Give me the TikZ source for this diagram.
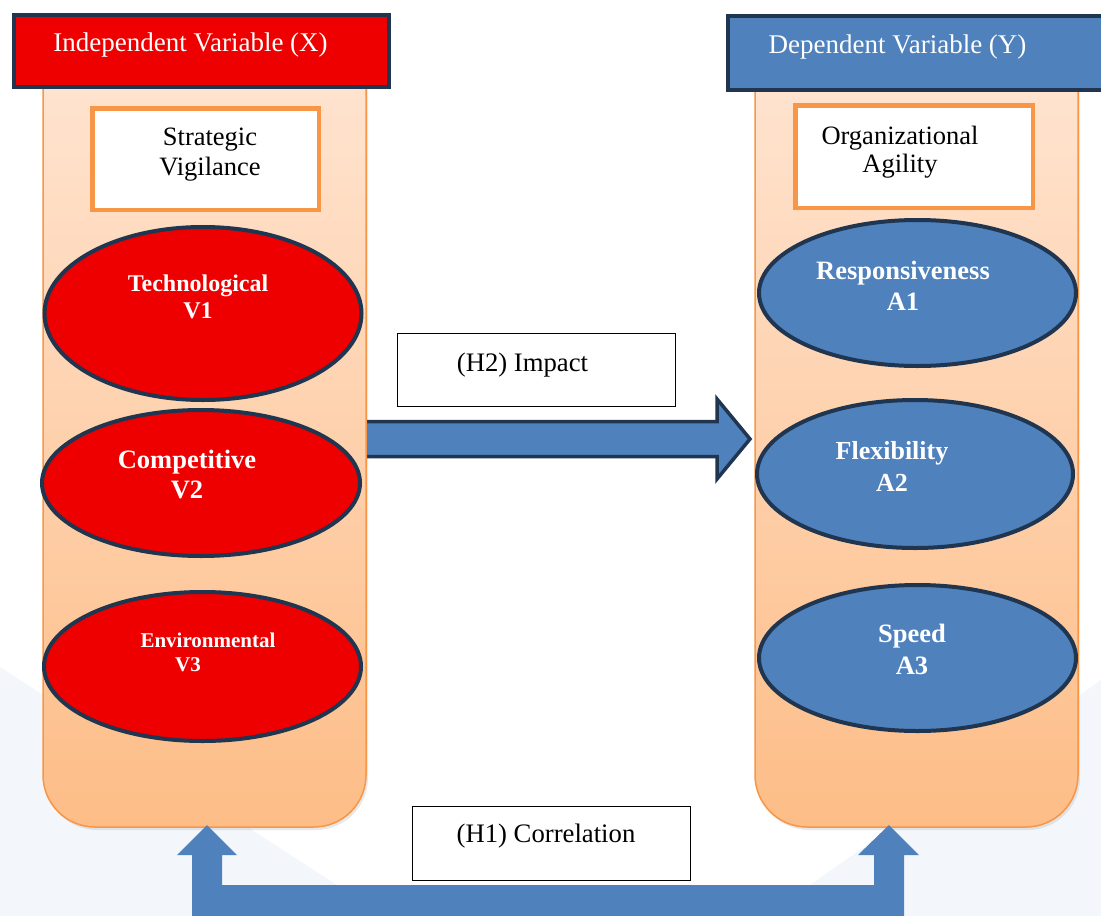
\documentclass[tikz,border=0pt]{standalone}
\usepackage{fontspec}
\setmainfont{Liberation Serif}
\usetikzlibrary{shapes.geometric,calc,shadows}
\definecolor{navy}{HTML}{1F3550}
\definecolor{vred}{HTML}{EE0000}
\definecolor{vblue}{HTML}{4F81BD}
\definecolor{orng}{HTML}{F79646}
\definecolor{peachtop}{HTML}{FFE6D4}
\definecolor{peachbot}{HTML}{FDBD87}
\definecolor{bgblue}{HTML}{F3F7FC}
\begin{document}
\begin{tikzpicture}[x=1pt,y=-1pt,
  header/.style={rectangle,draw=navy,line width=4pt,inner sep=0pt},
  hdtext/.style={text=white,font=\fontsize{27}{32}\selectfont,inner sep=0pt},
  conbox/.style={rectangle,draw=orng,line width=4.5pt,fill=white,inner sep=0pt},
  context/.style={align=center,inner sep=0pt},
  oval/.style={ellipse,draw=navy,line width=4pt,inner sep=0pt},
  ovtext/.style={text=white,align=center,inner sep=0pt},
  hypbox/.style={rectangle,draw=black,line width=1.2pt,fill=white,inner sep=0pt},
  hyptext/.style={font=\fontsize{26.7}{30}\selectfont,inner sep=0pt},
  column/.style={rectangle,draw=orng,line width=1.5pt,top color=peachtop,bottom color=peachbot,
    rounded corners=52pt,inner sep=0pt,minimum width=323pt,minimum height=797pt,
    drop shadow={opacity=0.18,shadow xshift=2pt,shadow yshift=-3pt}},
  blockarrow/.style={fill=vblue,draw=navy,line width=3.5pt,line join=miter},
  corrarrow/.style={fill=vblue},
]
\useasboundingbox (0,0) rectangle (1101,916);
\clip (0,0) rectangle (1101,916);
\fill[white] (0,0) rectangle (1101,916);
% faint background shapes
\fill[bgblue] (0,667) -- (385,916) -- (0,916) -- cycle;
\fill[bgblue] (1101,680) -- (766,916) -- (1101,916) -- cycle;

% H2 impact arrow (under the columns)
\coordinate (h2a) at (340,439);
\coordinate (h2b) at (750,439);
\draw[blockarrow] ($(h2a)+(0,-17.5)$) -- ($(h2b)+(-33,-17.5)$) -- ($(h2b)+(-33,-40)$)
  -- (h2b) -- ($(h2b)+(-33,40)$) -- ($(h2b)+(-33,17.5)$) -- ($(h2a)+(0,17.5)$) -- cycle;

% columns
\node[column] (colL) at (204.5,428.5) {};
\node[column] (colR) at (916.5,428.5) {};

% headers
\node[header,fill=vred,minimum width=375pt,minimum height=72pt] (hdL) at (201.5,51) {};
\node[hdtext] at (190.5,45.5) {Independent Variable (X)};
\node[header,fill=vblue,minimum width=390pt,minimum height=74pt] (hdR) at (923,53) {};
\node[hdtext] at (897.5,47.5) {Dependent Variable (Y)};

% concept boxes
\node[conbox,minimum width=226.5pt,minimum height=101.5pt] (sv) at (205.5,159) {};
\node[context,font=\fontsize{26.5}{30}\selectfont] at (210,155) {Strategic\\Vigilance};
\node[conbox,minimum width=237.5pt,minimum height=102.5pt] (oa) at (914,156.5) {};
\node[context,font=\fontsize{26.5}{28}\selectfont] at (900,152) {Organizational\\Agility};

% left ellipses
\node[oval,fill=vred,minimum width=317pt,minimum height=173pt] (v1) at (203,313.5) {};
\node[ovtext,font=\fontsize{24}{27}\selectfont\bfseries] at (198,296.5) {Technological\\V1};
\node[oval,fill=vred,minimum width=318pt,minimum height=146pt] (v2) at (201,483) {};
\node[ovtext,font=\fontsize{26.5}{30}\selectfont\bfseries] at (187,475) {Competitive\\V2};
\node[oval,fill=vred,minimum width=317pt,minimum height=149pt] (v3) at (202.5,666.5) {};
\node[ovtext,font=\fontsize{21}{24}\selectfont\bfseries] at (208,652) {Environmental\\V3\hspace*{40pt}};

% right ellipses
\node[oval,fill=vblue,minimum width=317pt,minimum height=146pt] (a1) at (917.5,293) {};
\node[ovtext,font=\fontsize{26.5}{31}\selectfont\bfseries] at (903,285.5) {Responsiveness\\A1};
\node[oval,fill=vblue,minimum width=316pt,minimum height=148pt] (a2) at (915,474) {};
\node[ovtext,font=\fontsize{26}{32}\selectfont\bfseries] at (892,466) {Flexibility\\A2};
\node[oval,fill=vblue,minimum width=317pt,minimum height=146pt] (a3) at (917.5,658) {};
\node[ovtext,font=\fontsize{26.5}{32}\selectfont\bfseries] at (912,649) {Speed\\A3};

% hypothesis boxes
\node[hypbox,minimum width=277.8pt,minimum height=72.8pt] (h2box) at (536.5,370) {};
\node[hyptext] at (522.5,365) {(H2) Impact};
\node[hypbox,minimum width=277.8pt,minimum height=73.8pt] (h1box) at (551.5,843.5) {};
\node[hyptext] at (546,836) {(H1) Correlation};

% H1 correlation arrow
\coordinate (tipL) at (207,825);
\coordinate (tipR) at (889,825);
\fill[corrarrow] ($(tipL)+(-15,91)$) -- ($(tipL)+(-15,30)$) -- ($(tipL)+(-30,30)$) -- (tipL)
  -- ($(tipL)+(30,30)$) -- ($(tipL)+(15,30)$) -- ($(tipL)+(15,60)$)
  -- ($(tipR)+(-15,60)$) -- ($(tipR)+(-15,30)$) -- ($(tipR)+(-31,30)$) -- (tipR)
  -- ($(tipR)+(30,30)$) -- ($(tipR)+(15,30)$) -- ($(tipR)+(15,91)$) -- cycle;
\end{tikzpicture}
\end{document}
